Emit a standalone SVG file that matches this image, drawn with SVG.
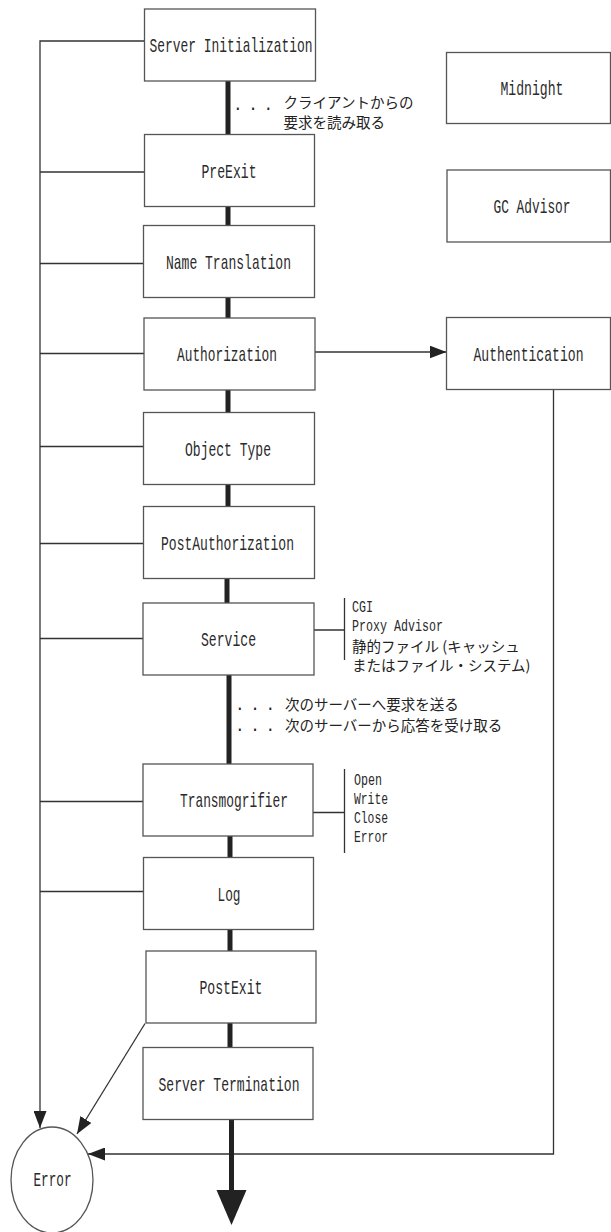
<svg xmlns="http://www.w3.org/2000/svg" width="611" height="1232" viewBox="0 0 611 1232">
<style>
.box{fill:#fff;stroke:#555;stroke-width:1.3}
.thin{fill:none;stroke:#333;stroke-width:1.3}
.thick{fill:none;stroke:#222;stroke-width:5}
.lbl{font-family:"Liberation Mono",monospace;font-size:21px;text-anchor:middle;fill:#2a2a2a}
.sm{font-family:"Liberation Mono",monospace;font-size:16.5px;fill:#2a2a2a}
.jp{font-family:"Noto Sans CJK JP",sans-serif;font-size:14.5px;fill:#222}
.dots{font-family:"Liberation Mono",monospace;font-size:16px;fill:#222}
</style>
<defs>
<marker id="ah" markerUnits="userSpaceOnUse" viewBox="0 0 17 13" refX="17" refY="6.5" markerWidth="17" markerHeight="13" orient="auto">
<path d="M0,0 L17,6.5 L0,13 z" fill="#222"/>
</marker>
</defs>
<g id="connectors">
<path class="thin" d="M144.5,41 H40 V1128" marker-end="url(#ah)"/>
<path class="thin" d="M40,172 H144.5 M40,263.5 H143.5 M40,353.5 H144 M40,446.5 H143.5 M40,543.5 H143.5 M40,638.5 H143 M40,801.5 H143 M40,891.5 H143.5"/>
<path class="thin" d="M315,352 H446.5" marker-end="url(#ah)"/>
<path class="thin" d="M553.5,389.5 V1154 H88" marker-end="url(#ah)"/>
<path class="thin" d="M145,1023.5 L77,1134" marker-end="url(#ah)"/>
<path class="thin" d="M314,630 H344.5 M344.5,598 V660"/>
<path class="thin" d="M313,812.5 H344.5 M344.5,769 V853"/>
<path class="thick" d="M228,81 V134.5 M228,206.5 V225.5 M228,297.5 V318 M228,390 V412.5 M228,484.5 V506.5 M227,578.5 V603 M229,675 V764 M230,836 V857.5 M230,929.5 V951 M230,1023 V1047.5 M231.5,1120 V1195"/>
<polygon points="216.5,1190 246.5,1190 231.5,1225" fill="#222"/>
</g>
<g id="n-server-init"><rect class="box" x="144.5" y="9" width="171" height="72"/><text class="lbl" x="231" y="52" textLength="163" lengthAdjust="spacingAndGlyphs">Server Initialization</text></g>
<g id="n-preexit"><rect class="box" x="144.5" y="134.5" width="170" height="72"/><text class="lbl" x="229" y="177.5" textLength="55" lengthAdjust="spacingAndGlyphs">PreExit</text></g>
<g id="n-name-translation"><rect class="box" x="143.5" y="225.5" width="171" height="72"/><text class="lbl" x="228.5" y="268.5" textLength="125" lengthAdjust="spacingAndGlyphs">Name Translation</text></g>
<g id="n-authorization"><rect class="box" x="144" y="318" width="171" height="72"/><text class="lbl" x="227" y="361" textLength="100" lengthAdjust="spacingAndGlyphs">Authorization</text></g>
<g id="n-object-type"><rect class="box" x="143.5" y="412.5" width="171" height="72"/><text class="lbl" x="228" y="455.5" textLength="86" lengthAdjust="spacingAndGlyphs">Object Type</text></g>
<g id="n-postauthorization"><rect class="box" x="143.5" y="506.5" width="171" height="72"/><text class="lbl" x="227.5" y="549.5" textLength="133" lengthAdjust="spacingAndGlyphs">PostAuthorization</text></g>
<g id="n-service"><rect class="box" x="143" y="603" width="171" height="72"/><text class="lbl" x="228.5" y="646" textLength="55" lengthAdjust="spacingAndGlyphs">Service</text></g>
<g id="n-transmogrifier"><rect class="box" x="143" y="764" width="170" height="72"/><text class="lbl" x="234" y="807" textLength="108" lengthAdjust="spacingAndGlyphs">Transmogrifier</text></g>
<g id="n-log"><rect class="box" x="143.5" y="857.5" width="170" height="72"/><text class="lbl" x="229" y="900.5" textLength="23" lengthAdjust="spacingAndGlyphs">Log</text></g>
<g id="n-postexit"><rect class="box" x="146" y="951" width="170" height="72"/><text class="lbl" x="231" y="994" textLength="63" lengthAdjust="spacingAndGlyphs">PostExit</text></g>
<g id="n-server-termination"><rect class="box" x="143" y="1047.5" width="170" height="72"/><text class="lbl" x="229" y="1090.5" textLength="141" lengthAdjust="spacingAndGlyphs">Server Termination</text></g>
<g id="n-midnight"><rect class="box" x="446.5" y="52.5" width="164" height="71"/><text class="lbl" x="532" y="95" textLength="63" lengthAdjust="spacingAndGlyphs">Midnight</text></g>
<g id="n-gc-advisor"><rect class="box" x="447" y="170" width="163.5" height="72"/><text class="lbl" x="532" y="213" textLength="77" lengthAdjust="spacingAndGlyphs">GC Advisor</text></g>
<g id="n-authentication"><rect class="box" x="446.5" y="317.5" width="164" height="72"/><text class="lbl" x="528.5" y="360.5" textLength="110" lengthAdjust="spacingAndGlyphs">Authentication</text></g>
<g id="n-error"><ellipse class="box" cx="52" cy="1180" rx="41" ry="53"/><text class="lbl" x="52.5" y="1186" textLength="38" lengthAdjust="spacingAndGlyphs">Error</text></g>
<g id="notes">
<text class="dots" x="233" y="110" textLength="40" lengthAdjust="spacing">. . .</text>
<text class="jp" x="283.5" y="108">クライアントからの</text>
<text class="jp" x="283.5" y="128">要求を読み取る</text>
<text class="sm" x="352" y="611.5" textLength="21" lengthAdjust="spacingAndGlyphs">CGI</text>
<text class="sm" x="352" y="631" textLength="91" lengthAdjust="spacingAndGlyphs">Proxy Advisor</text>
<text class="jp" x="352" y="651.5">静的ファイル (キャッシュ</text>
<text class="jp" x="352" y="670.5">またはファイル・システム)</text>
<text class="dots" x="235" y="710" textLength="40" lengthAdjust="spacing">. . .</text>
<text class="jp" x="285" y="710">次のサーバーへ要求を送る</text>
<text class="dots" x="235" y="731" textLength="40" lengthAdjust="spacing">. . .</text>
<text class="jp" x="285" y="731">次のサーバーから応答を受け取る</text>
<text class="sm" x="354" y="784.5" textLength="28" lengthAdjust="spacingAndGlyphs">Open</text>
<text class="sm" x="354" y="803.5" textLength="34" lengthAdjust="spacingAndGlyphs">Write</text>
<text class="sm" x="354" y="822.5" textLength="34" lengthAdjust="spacingAndGlyphs">Close</text>
<text class="sm" x="354" y="841.5" textLength="34" lengthAdjust="spacingAndGlyphs">Error</text>
</g>
</svg>
